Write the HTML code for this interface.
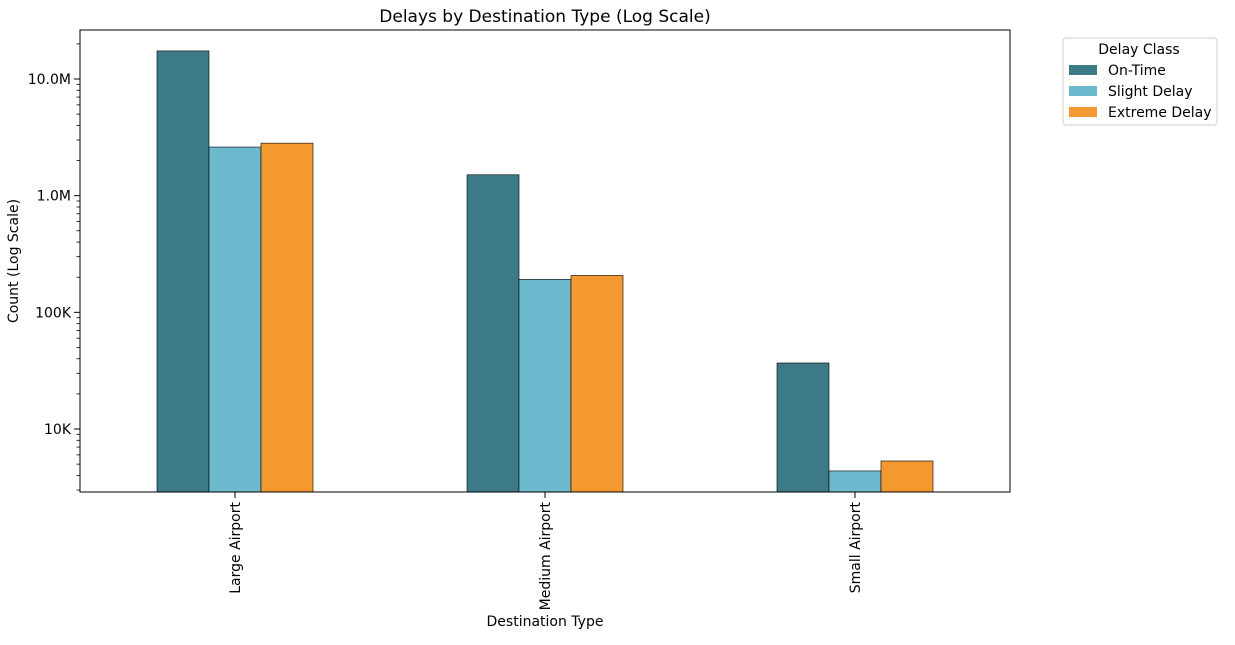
<!DOCTYPE html>
<html><head><meta charset="utf-8"><style>
body{margin:0;background:#fff;font-family:"Liberation Sans","DejaVu Sans",sans-serif;}
</style></head><body>
<svg width="1235" height="640" xmlns="http://www.w3.org/2000/svg" font-family="'DejaVu Sans','Liberation Sans',sans-serif">
<text x="545" y="22" text-anchor="middle" font-size="17">Delays by Destination Type (Log Scale)</text>
<g id="plot"></g>
<rect x="80" y="30" width="930" height="462" fill="none" stroke="#000" stroke-width="1"/>
<text x="545" y="626" text-anchor="middle" font-size="14">Destination Type</text>
<text transform="translate(18,261) rotate(-90)" text-anchor="middle" font-size="14">Count (Log Scale)</text>
<g>
<rect x="1063" y="38" width="154" height="87" fill="#fff" stroke="#ccc" rx="3"/>
<text x="1139" y="54" text-anchor="middle" font-size="14">Delay Class</text>
<rect x="1069" y="65" width="28" height="10" fill="#3d7a87"/>
<text x="1108" y="75" font-size="14">On-Time</text>
<rect x="1069" y="86" width="28" height="10" fill="#6cb9ce"/>
<text x="1108" y="96" font-size="14">Slight Delay</text>
<rect x="1069" y="107" width="28" height="10" fill="#f4992f"/>
<text x="1108" y="117" font-size="14">Extreme Delay</text>
</g>
</svg>
<script>
const categories=["Large Airport","Medium Airport","Small Airport"];
const seriesNames=["On-Time","Slight Delay","Extreme Delay"];
const onTime=[17400000,1510000,36800];
const slightDelay=[2610000,192000,4370];
const extremeDelay=[2820000,207000,5320];
const tickValues=[10000,100000,1000000,10000000];
const tickLabels=["10K","100K","1.0M","10.0M"];
const colors=["#3d7a87","#6cb9ce","#f4992f"];
const L=80,R=1010,T=30,B=492;
const logMin=Math.log10(2884),logMax=Math.log10(26300000);
function y(v){return B-(Math.log10(v)-logMin)/(logMax-logMin)*(B-T);}
const band=(R-L)/categories.length, bw=52;
function xc(i){return L+band*(i+0.5);}
const g=document.getElementById('plot');
const NS="http://www.w3.org/2000/svg";
function mk(t,a){const e=document.createElementNS(NS,t);for(const k in a)e.setAttribute(k,a[k]);g.appendChild(e);return e;}
const series=[onTime,slightDelay,extremeDelay];
series.forEach((s,si)=>{s.forEach((v,ci)=>{
 const x=xc(ci)+(si-1)*bw-bw/2;
 const r=mk('rect',{x:x,y:y(v),width:bw,height:B-y(v),fill:colors[si],stroke:'#000','stroke-width':0.6});
 
 
});});
for(let d=3;d<=7;d++){for(let m=1;m<=9;m++){const v=m*Math.pow(10,d);const yy=y(v);if(yy<T||yy>B)continue;
 const len=m===1?6:3.5;const t=mk('line',{x1:L-len,x2:L,y1:yy,y2:yy,stroke:'#000','stroke-width':m===1?1:0.8});
 
 }}
tickValues.forEach((v,i)=>{const t=mk('text',{x:L-9,y:y(v)+5,'text-anchor':'end','font-size':14});t.textContent=tickLabels[i];
 
 });
categories.forEach((c,i)=>{const x=xc(i);
 const tk=mk('line',{x1:x,x2:x,y1:B,y2:B+6,stroke:'#000'});
 
 
 const t=mk('text',{transform:`translate(${x+5},${B+10}) rotate(-90)`,'text-anchor':'end','font-size':14});t.textContent=c;
 
 });
</script>
</body></html>
